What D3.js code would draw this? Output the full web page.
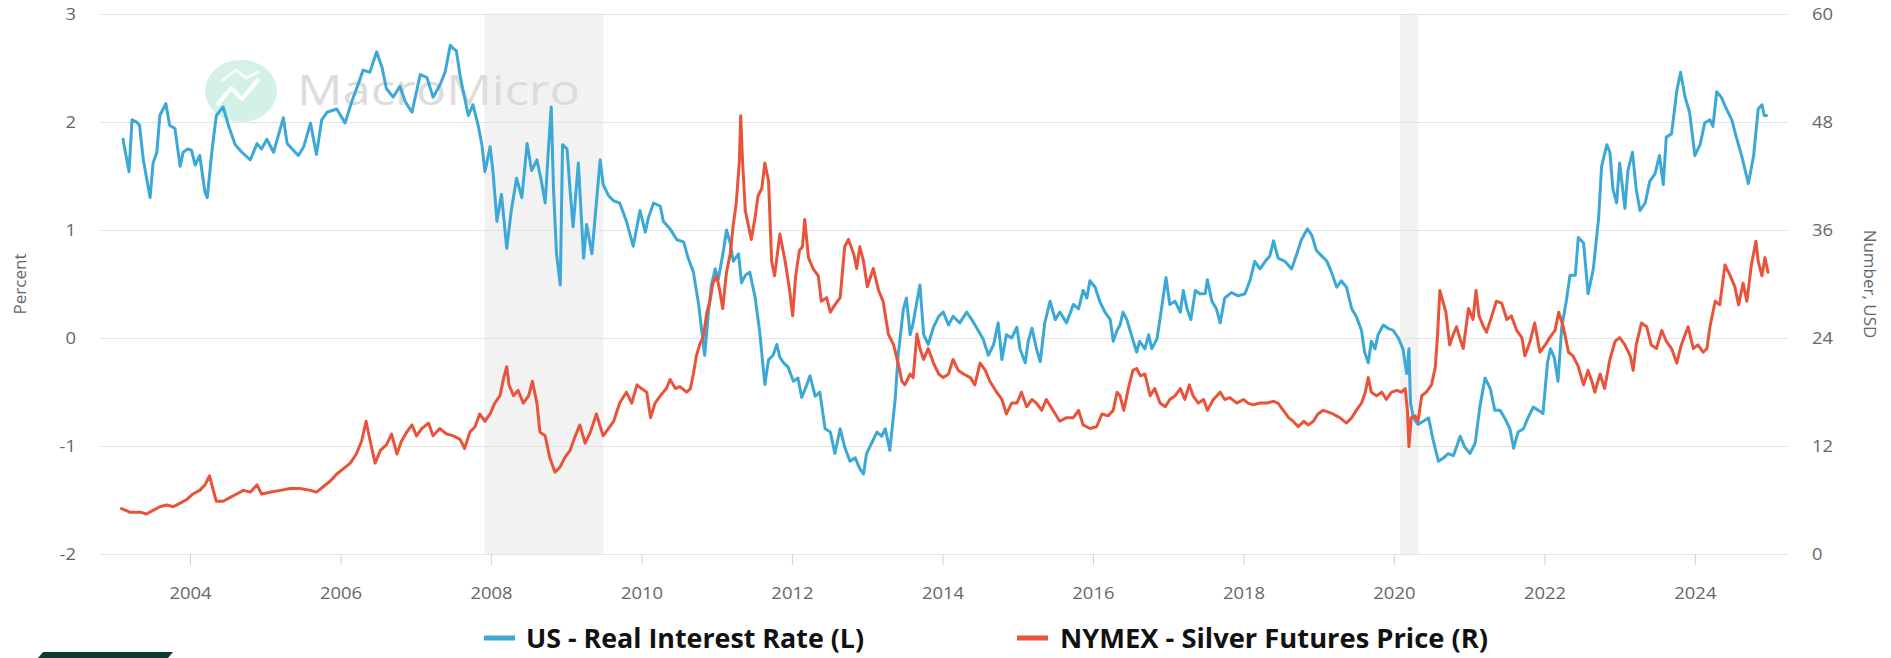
<!DOCTYPE html>
<html>
<head>
<meta charset="utf-8">
<script src="https://cdn.jsdelivr.net/npm/d3@7"></script>
<style>
  html, body { margin: 0; padding: 0; background: #fff; }
  svg { display: block; }
  text { font-family: "Open Sans", "Noto Sans", sans-serif; }
</style>
</head>
<body>
<svg id="chart" width="1891" height="658"></svg>
<script>
// ---------- DATA (decimal years) ----------
const rateYears = [2003.11,2003.19,2003.23,2003.29,2003.33,2003.38,2003.47,2003.51,2003.56,2003.60,2003.68,2003.73,2003.80,2003.87,2003.91,2003.97,2004.02,2004.07,2004.13,2004.20,2004.23,2004.29,2004.35,2004.44,2004.51,2004.60,2004.69,2004.80,2004.89,2004.95,2005.02,2005.11,2005.24,2005.29,2005.37,2005.44,2005.51,2005.60,2005.68,2005.75,2005.82,2005.95,2006.06,2006.15,2006.24,2006.30,2006.39,2006.48,2006.55,2006.61,2006.70,2006.79,2006.86,2006.95,2007.06,2007.15,2007.23,2007.32,2007.39,2007.46,2007.50,2007.54,2007.59,2007.63,2007.70,2007.76,2007.83,2007.88,2007.92,2007.99,2008.03,2008.08,2008.14,2008.21,2008.27,2008.34,2008.41,2008.48,2008.54,2008.61,2008.67,2008.72,2008.76,2008.80,2008.83,2008.87,2008.92,2008.95,2009.01,2009.05,2009.09,2009.16,2009.23,2009.27,2009.34,2009.40,2009.45,2009.49,2009.56,2009.63,2009.71,2009.80,2009.89,2009.98,2010.05,2010.09,2010.16,2010.25,2010.29,2010.38,2010.47,2010.56,2010.62,2010.69,2010.76,2010.80,2010.84,2010.89,2010.93,2010.98,2011.02,2011.09,2011.13,2011.18,2011.22,2011.29,2011.33,2011.38,2011.44,2011.51,2011.57,2011.64,2011.69,2011.75,2011.80,2011.84,2011.89,2011.95,2012.02,2012.08,2012.13,2012.20,2012.24,2012.31,2012.37,2012.44,2012.51,2012.57,2012.64,2012.70,2012.77,2012.84,2012.90,2012.95,2012.99,2013.06,2013.13,2013.19,2013.24,2013.30,2013.37,2013.41,2013.48,2013.52,2013.57,2013.61,2013.66,2013.70,2013.75,2013.81,2013.88,2013.95,2014.01,2014.08,2014.14,2014.23,2014.32,2014.39,2014.45,2014.54,2014.61,2014.68,2014.74,2014.79,2014.85,2014.92,2014.99,2015.03,2015.10,2015.14,2015.19,2015.25,2015.30,2015.36,2015.43,2015.50,2015.56,2015.65,2015.74,2015.81,2015.87,2015.92,2015.96,2016.03,2016.09,2016.16,2016.23,2016.27,2016.32,2016.36,2016.40,2016.45,2016.51,2016.58,2016.62,2016.69,2016.74,2016.78,2016.85,2016.91,2016.97,2017.02,2017.09,2017.16,2017.20,2017.25,2017.30,2017.36,2017.42,2017.49,2017.52,2017.58,2017.64,2017.69,2017.75,2017.84,2017.93,2018.02,2018.09,2018.15,2018.22,2018.29,2018.35,2018.40,2018.46,2018.55,2018.64,2018.71,2018.77,2018.85,2018.91,2018.97,2019.04,2019.11,2019.17,2019.24,2019.30,2019.37,2019.44,2019.50,2019.57,2019.61,2019.66,2019.70,2019.75,2019.79,2019.86,2019.92,2019.99,2020.06,2020.12,2020.17,2020.20,2020.22,2020.26,2020.32,2020.39,2020.46,2020.52,2020.59,2020.66,2020.72,2020.79,2020.88,2020.94,2021.01,2021.08,2021.14,2021.21,2021.28,2021.34,2021.41,2021.47,2021.54,2021.59,2021.65,2021.72,2021.78,2021.85,2021.92,2021.98,2022.04,2022.08,2022.13,2022.18,2022.23,2022.29,2022.34,2022.41,2022.45,2022.52,2022.58,2022.65,2022.72,2022.76,2022.83,2022.87,2022.91,2022.96,2023.00,2023.07,2023.11,2023.17,2023.22,2023.27,2023.34,2023.40,2023.47,2023.53,2023.58,2023.62,2023.69,2023.76,2023.81,2023.87,2023.93,2024.00,2024.07,2024.13,2024.20,2024.24,2024.29,2024.35,2024.42,2024.49,2024.55,2024.62,2024.71,2024.78,2024.84,2024.89,2024.92,2024.95];
const rateValues = [1.84,1.54,2.02,2.00,1.97,1.65,1.30,1.62,1.72,2.06,2.17,1.97,1.94,1.59,1.72,1.75,1.74,1.60,1.69,1.35,1.30,1.72,2.06,2.14,1.97,1.79,1.72,1.65,1.80,1.75,1.84,1.72,2.04,1.80,1.74,1.69,1.77,1.99,1.70,2.02,2.09,2.12,1.99,2.19,2.36,2.48,2.46,2.65,2.51,2.31,2.23,2.33,2.19,2.09,2.44,2.41,2.23,2.34,2.46,2.71,2.68,2.66,2.43,2.29,2.06,2.16,1.97,1.79,1.54,1.77,1.52,1.08,1.33,0.83,1.18,1.48,1.30,1.80,1.55,1.65,1.45,1.25,1.72,2.14,1.38,0.78,0.49,1.79,1.75,1.37,1.03,1.62,0.74,1.05,0.78,1.25,1.65,1.42,1.32,1.27,1.25,1.08,0.85,1.18,0.98,1.11,1.25,1.22,1.08,1.01,0.91,0.89,0.74,0.61,0.31,0.07,-0.16,0.24,0.49,0.64,0.54,0.81,1.00,0.88,0.71,0.78,0.51,0.58,0.61,0.38,0.07,-0.43,-0.20,-0.16,-0.06,-0.18,-0.23,-0.27,-0.40,-0.37,-0.55,-0.43,-0.35,-0.54,-0.50,-0.84,-0.87,-1.07,-0.84,-1.01,-1.14,-1.11,-1.21,-1.26,-1.07,-0.97,-0.87,-0.91,-0.84,-1.04,-0.57,-0.16,0.27,0.37,0.03,0.14,0.34,0.49,0.03,-0.06,0.10,0.20,0.24,0.12,0.20,0.14,0.24,0.17,0.10,-0.01,-0.16,-0.06,0.14,-0.20,0.03,0.00,0.10,-0.10,-0.23,-0.03,0.09,-0.10,-0.22,0.14,0.34,0.17,0.24,0.14,0.31,0.27,0.44,0.37,0.53,0.47,0.34,0.24,0.17,-0.03,0.07,0.12,0.24,0.17,0.03,-0.13,-0.03,-0.10,0.03,-0.10,-0.01,0.27,0.56,0.31,0.34,0.24,0.44,0.27,0.17,0.44,0.41,0.41,0.54,0.34,0.27,0.14,0.37,0.42,0.39,0.41,0.54,0.71,0.64,0.71,0.76,0.90,0.74,0.71,0.64,0.78,0.91,1.01,0.95,0.81,0.76,0.71,0.61,0.47,0.53,0.47,0.27,0.20,0.07,-0.13,-0.23,-0.03,-0.10,0.03,0.12,0.09,0.07,0.00,-0.10,-0.33,-0.10,-0.60,-0.74,-0.80,-0.77,-0.74,-0.94,-1.14,-1.11,-1.07,-1.09,-0.91,-1.01,-1.07,-0.97,-0.64,-0.37,-0.47,-0.67,-0.67,-0.74,-0.84,-1.02,-0.87,-0.84,-0.74,-0.64,-0.67,-0.70,-0.23,-0.10,-0.18,-0.40,0.10,0.34,0.58,0.58,0.93,0.88,0.41,0.64,1.11,1.59,1.79,1.72,1.38,1.25,1.62,1.20,1.55,1.72,1.38,1.18,1.25,1.45,1.52,1.69,1.42,1.86,1.89,2.29,2.46,2.23,2.09,1.69,1.79,1.99,2.02,1.96,2.28,2.23,2.12,2.02,1.86,1.69,1.43,1.69,2.12,2.16,2.06,2.06];

const silverYears = [2003.09,2003.20,2003.34,2003.42,2003.51,2003.60,2003.69,2003.78,2003.87,2003.96,2004.04,2004.13,2004.20,2004.26,2004.31,2004.35,2004.44,2004.53,2004.62,2004.71,2004.80,2004.89,2004.95,2005.06,2005.20,2005.33,2005.46,2005.60,2005.68,2005.77,2005.86,2005.95,2006.04,2006.13,2006.21,2006.28,2006.34,2006.39,2006.46,2006.53,2006.61,2006.68,2006.75,2006.81,2006.88,2006.95,2007.01,2007.08,2007.17,2007.23,2007.32,2007.41,2007.50,2007.59,2007.65,2007.72,2007.79,2007.85,2007.92,2007.99,2008.05,2008.12,2008.17,2008.21,2008.24,2008.30,2008.36,2008.43,2008.50,2008.55,2008.61,2008.65,2008.72,2008.78,2008.85,2008.92,2008.98,2009.05,2009.12,2009.18,2009.25,2009.32,2009.40,2009.49,2009.56,2009.63,2009.71,2009.80,2009.87,2009.94,2010.00,2010.07,2010.12,2010.18,2010.25,2010.33,2010.38,2010.45,2010.51,2010.60,2010.65,2010.69,2010.73,2010.78,2010.82,2010.87,2010.91,2010.95,2011.00,2011.04,2011.08,2011.13,2011.18,2011.22,2011.26,2011.30,2011.32,2011.34,2011.38,2011.42,2011.46,2011.51,2011.55,2011.60,2011.64,2011.69,2011.73,2011.77,2011.84,2011.91,2011.97,2012.01,2012.05,2012.10,2012.14,2012.17,2012.22,2012.28,2012.35,2012.39,2012.46,2012.51,2012.57,2012.64,2012.70,2012.75,2012.82,2012.86,2012.90,2012.95,2013.00,2013.08,2013.15,2013.21,2013.28,2013.35,2013.41,2013.46,2013.50,2013.57,2013.61,2013.66,2013.70,2013.75,2013.81,2013.88,2013.95,2014.01,2014.08,2014.14,2014.21,2014.28,2014.37,2014.43,2014.50,2014.57,2014.63,2014.72,2014.79,2014.85,2014.92,2014.99,2015.05,2015.12,2015.19,2015.25,2015.32,2015.38,2015.47,2015.56,2015.65,2015.74,2015.81,2015.87,2015.96,2016.05,2016.12,2016.20,2016.27,2016.32,2016.36,2016.41,2016.47,2016.53,2016.58,2016.63,2016.69,2016.76,2016.82,2016.89,2016.96,2017.02,2017.09,2017.16,2017.22,2017.28,2017.33,2017.40,2017.47,2017.52,2017.60,2017.69,2017.75,2017.82,2017.91,2018.00,2018.06,2018.13,2018.22,2018.31,2018.40,2018.46,2018.53,2018.60,2018.66,2018.73,2018.80,2018.86,2018.93,2018.99,2019.06,2019.13,2019.19,2019.28,2019.37,2019.44,2019.50,2019.57,2019.62,2019.66,2019.70,2019.77,2019.84,2019.90,2019.97,2020.04,2020.10,2020.15,2020.18,2020.20,2020.23,2020.28,2020.32,2020.37,2020.43,2020.50,2020.55,2020.58,2020.61,2020.65,2020.69,2020.74,2020.79,2020.83,2020.88,2020.92,2020.99,2021.05,2021.09,2021.13,2021.19,2021.23,2021.30,2021.36,2021.43,2021.50,2021.56,2021.63,2021.70,2021.74,2021.81,2021.87,2021.94,2022.01,2022.07,2022.14,2022.19,2022.25,2022.32,2022.38,2022.45,2022.52,2022.58,2022.63,2022.67,2022.74,2022.80,2022.87,2022.94,2023.00,2023.07,2023.14,2023.18,2023.22,2023.29,2023.36,2023.42,2023.49,2023.56,2023.62,2023.69,2023.76,2023.82,2023.91,2023.98,2024.04,2024.11,2024.16,2024.20,2024.27,2024.33,2024.40,2024.47,2024.53,2024.58,2024.64,2024.69,2024.75,2024.81,2024.84,2024.89,2024.93,2024.97];
const silverValues = [5.05,4.65,4.65,4.44,4.85,5.25,5.45,5.25,5.66,6.06,6.67,7.07,7.68,8.69,7.07,5.86,5.86,6.26,6.67,7.07,6.87,7.68,6.67,6.87,7.07,7.27,7.27,7.07,6.87,7.47,8.08,8.89,9.49,10.10,11.11,12.53,14.75,12.73,10.10,11.52,12.12,13.33,11.11,12.53,13.54,14.34,13.13,13.94,14.55,13.13,13.94,13.33,13.13,12.73,11.72,13.54,14.14,15.56,14.75,15.56,16.77,17.58,19.60,20.81,18.79,17.58,18.18,16.77,17.58,19.19,16.77,13.54,13.13,10.71,9.09,9.70,10.71,11.52,13.13,14.34,12.32,13.54,15.56,13.13,13.94,14.75,16.77,17.98,16.77,18.79,18.38,17.98,15.15,16.77,17.58,18.38,19.39,18.38,18.59,17.98,18.38,20.00,22.02,23.43,24.04,26.87,28.08,30.10,30.91,29.29,27.27,31.31,33.33,36.57,38.99,43.43,48.69,44.24,38.18,36.57,34.95,37.37,39.80,40.61,43.43,41.41,32.53,30.91,35.55,32.53,29.29,26.46,30.91,33.74,34.14,37.17,32.93,31.72,30.91,28.08,28.48,26.87,27.68,28.48,34.14,34.95,33.33,31.72,34.14,32.53,29.70,31.72,29.29,28.08,24.44,23.23,21.21,19.19,18.79,20.00,19.60,24.44,22.83,21.62,22.83,21.21,20.00,19.60,20.00,21.62,20.40,20.00,19.60,18.79,21.21,20.40,19.19,17.98,17.17,15.56,16.77,16.77,17.98,16.36,17.17,16.77,15.96,17.17,15.96,14.75,15.15,15.15,15.96,14.34,13.94,14.14,15.56,15.35,15.96,17.98,17.58,15.96,18.38,20.40,20.61,19.80,20.00,17.58,18.38,16.77,16.36,17.17,17.58,18.38,17.17,18.79,17.58,16.77,17.17,15.96,17.17,17.98,17.17,17.37,16.77,17.17,16.77,16.57,16.77,16.77,16.97,16.77,15.96,15.15,14.75,14.14,14.75,14.34,14.75,15.56,15.96,15.76,15.56,15.15,14.55,15.15,15.96,16.77,17.98,19.60,17.98,17.58,17.98,17.17,17.98,18.18,17.98,18.38,15.96,11.92,15.15,15.35,14.75,17.58,17.98,18.79,20.81,24.44,29.29,28.08,26.87,23.23,24.44,25.25,23.84,22.83,27.27,26.06,29.29,26.46,25.25,24.65,26.46,28.08,27.88,26.06,26.46,24.85,24.04,22.02,23.64,25.66,22.42,23.23,24.04,24.85,26.87,25.25,22.42,22.02,20.81,18.79,20.40,19.19,17.98,20.00,18.38,21.62,23.64,24.04,23.23,22.02,20.40,23.23,25.66,25.25,23.23,22.83,24.85,23.64,22.83,21.21,23.23,25.25,22.83,23.23,22.42,22.83,25.25,28.08,27.68,32.12,30.91,29.70,27.68,30.10,28.08,32.12,34.75,32.53,30.91,32.93,31.31];

const leftTicks = [-2, -1, 0, 1, 2, 3];
const rightTicks = [0, 12, 24, 36, 48, 60];
const recessionStarts = ["2007-12-01", "2020-02-01"];
const recessionEnds = ["2009-06-30", "2020-04-30"];
const seriesNames = ["US - Real Interest Rate (L)", "NYMEX - Silver Futures Price (R)"];
const seriesColors = ["#3ba8d6", "#e8533a"];
const leftTitle = "Percent";
const rightTitle = "Number, USD";
const xDomainYears = [2002.804, 2025.236];

// ---------- helpers ----------
function fromDecimalYear(y) {
  const yr = Math.floor(y);
  const s = Date.UTC(yr, 0, 1), e = Date.UTC(yr + 1, 0, 1);
  return new Date(s + (y - yr) * (e - s));
}
const STRETCH = 1.15; // the reference screenshot is horizontally stretched
const plainNum = d => String(d); // hyphen-minus like the reference

const svg = d3.select("#chart");
const W = 1891, H = 658;
const plot = { left: 100, right: 1788, top: 14, bottom: 554 };

svg.append("rect").attr("width", W).attr("height", H).attr("fill", "#fff");

const x = d3.scaleUtc().domain(xDomainYears.map(fromDecimalYear)).range([plot.left, plot.right]);
const yL = d3.scaleLinear().domain([-2, 3]).range([plot.bottom, plot.top]);
const yR = d3.scaleLinear().domain([0, 60]).range([plot.bottom, plot.top]);

// recession bands
svg.append("g").selectAll("rect")
  .data(recessionStarts.map((s, i) => [new Date(s), new Date(recessionEnds[i])]))
  .join("rect")
  .attr("x", d => x(d[0]))
  .attr("width", d => x(d[1]) - x(d[0]))
  .attr("y", plot.top)
  .attr("height", plot.bottom - plot.top)
  .attr("fill", "#f2f2f2");

// grid
svg.append("g").selectAll("line")
  .data(leftTicks)
  .join("line")
  .attr("x1", plot.left).attr("x2", plot.right)
  .attr("y1", d => Math.round(yL(d)) + 0.5).attr("y2", d => Math.round(yL(d)) + 0.5)
  .attr("stroke", "#e3e3e3").attr("stroke-width", 1);

// watermark
const wm = svg.append("g").attr("class", "watermark");
wm.append("ellipse").attr("cx", 241).attr("cy", 91).attr("rx", 36).attr("ry", 31).attr("fill", "#d3f1e7");
wm.append("polyline")
  .attr("points", "218,104 231,88 242,99 258,80")
  .attr("fill", "none").attr("stroke", "#fff").attr("stroke-width", 4)
  .attr("stroke-linejoin", "round").attr("stroke-linecap", "round");
wm.append("polyline")
  .attr("points", "223,80 236,70 246,78 258,72")
  .attr("fill", "none").attr("stroke", "#fff").attr("stroke-width", 3)
  .attr("stroke-linejoin", "round").attr("stroke-linecap", "round").attr("opacity", 0.8);
wm.append("text")
  .attr("x", 297).attr("y", 105)
  .attr("font-family", "Lato, 'Open Sans', sans-serif")
  .attr("font-size", 42)
  .attr("fill", "#dcdcdc")
  .attr("textLength", 283).attr("lengthAdjust", "spacingAndGlyphs")
  .text("MacroMicro");

// axes
const axisColor = "#666";
function stretchText(sel) {
  sel.each(function () {
    const t = d3.select(this);
    const xx = +t.attr("x") || 0;
    t.attr("x", 0).attr("transform", `translate(${xx},0) scale(${STRETCH},1)`);
  });
}

const gx = svg.append("g")
  .attr("transform", `translate(0,${plot.bottom})`)
  .call(d3.axisBottom(x).ticks(d3.utcYear.every(2)).tickFormat(d3.utcFormat("%Y")).tickSize(11).tickPadding(0));
gx.select(".domain").remove();
gx.selectAll(".tick line").attr("stroke", "#d0d0d0");
gx.selectAll(".tick text")
  .attr("y", 39).attr("dy", "0.35em")
  .attr("fill", axisColor).attr("font-size", 16)
  .call(stretchText);

const gl = svg.append("g")
  .attr("transform", `translate(${plot.left},0)`)
  .call(d3.axisLeft(yL).tickValues(leftTicks).tickFormat(plainNum).tickSize(0).tickPadding(24));
gl.select(".domain").remove();
gl.selectAll(".tick text").attr("fill", axisColor).attr("font-size", 16).call(stretchText);

const gr = svg.append("g")
  .attr("transform", `translate(${plot.right},0)`)
  .call(d3.axisRight(yR).tickValues(rightTicks).tickFormat(plainNum).tickSize(0).tickPadding(24));
gr.select(".domain").remove();
gr.selectAll(".tick text").attr("fill", axisColor).attr("font-size", 16).call(stretchText);

svg.selectAll(".tick text").attr("font-family", "'Open Sans', sans-serif");

// axis titles
svg.append("text")
  .attr("transform", `translate(19,${(plot.top + plot.bottom) / 2}) rotate(-90)`)
  .attr("text-anchor", "middle").attr("dominant-baseline", "central")
  .attr("font-size", 17).attr("fill", axisColor)
  .text(leftTitle);
svg.append("text")
  .attr("transform", `translate(1870,${(plot.top + plot.bottom) / 2}) rotate(90)`)
  .attr("text-anchor", "middle").attr("dominant-baseline", "central")
  .attr("font-size", 17).attr("fill", axisColor)
  .text(rightTitle);

// lines
const rateData = rateYears.map((yv, i) => ({ d: fromDecimalYear(yv), v: rateValues[i] }));
const silverData = silverYears.map((yv, i) => ({ d: fromDecimalYear(yv), v: silverValues[i] }));

svg.append("path")
  .datum(rateData)
  .attr("fill", "none").attr("stroke", seriesColors[0]).attr("stroke-width", 3)
  .attr("stroke-linejoin", "round").attr("stroke-linecap", "round")
  .attr("d", d3.line().x(d => x(d.d)).y(d => yL(d.v)));

svg.append("path")
  .datum(silverData)
  .attr("fill", "none").attr("stroke", seriesColors[1]).attr("stroke-width", 3)
  .attr("stroke-linejoin", "round").attr("stroke-linecap", "round")
  .attr("d", d3.line().x(d => x(d.d)).y(d => yR(d.v)));

// legend
const legendItems = [
  { name: seriesNames[0], color: seriesColors[0], lx: 484, tx: 526, w: 338 },
  { name: seriesNames[1], color: seriesColors[1], lx: 1017, tx: 1060, w: 428 }
];
const lg = svg.append("g");
legendItems.forEach(it => {
  lg.append("line")
    .attr("x1", it.lx).attr("x2", it.lx + 31)
    .attr("y1", 638).attr("y2", 638)
    .attr("stroke", it.color).attr("stroke-width", 5);
  lg.append("text")
    .attr("x", it.tx).attr("y", 638)
    .attr("dominant-baseline", "central")
    .attr("font-size", 26).attr("font-weight", 700).attr("fill", "#111")
    .attr("textLength", it.w).attr("lengthAdjust", "spacingAndGlyphs")
    .text(it.name);
});

// brand bar at bottom-left (partially cut off)
svg.append("polygon")
  .attr("points", "43,652 173,652 168,658 38,658")
  .attr("fill", "#0e3b33");
</script>
</body>
</html>
